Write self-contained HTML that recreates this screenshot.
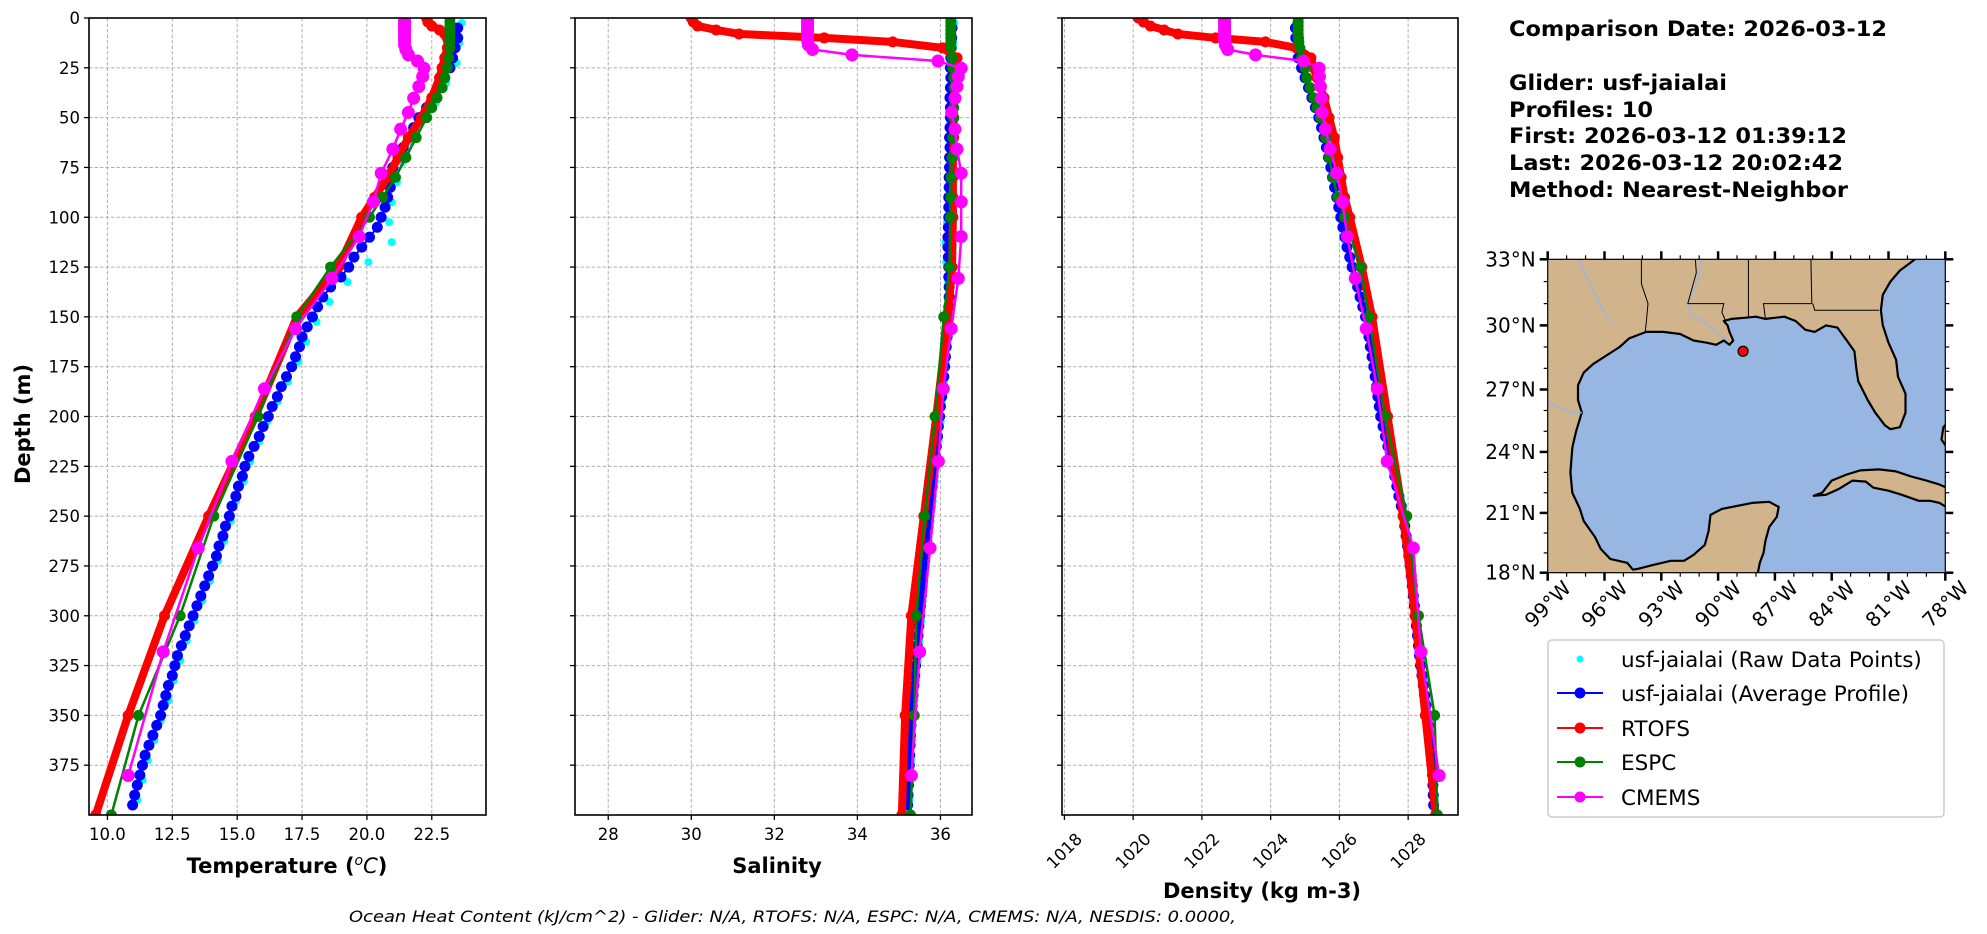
<!DOCTYPE html>
<html><head><meta charset="utf-8"><style>
html,body{margin:0;padding:0;background:#fff;}
svg{display:block;font-family:"DejaVu Sans","Liberation Sans",sans-serif;}
</style></head><body>
<svg id="fig" xmlns="http://www.w3.org/2000/svg" width="1987" height="934" viewBox="0 0 1987 934">
<rect x="0" y="0" width="1987" height="934" fill="#fff"/>
<g id="panels"></g>
<g id="mapg"></g>
<text x="0" y="0" transform="translate(30,424) rotate(-90)" text-anchor="middle" font-size="21" font-weight="bold">Depth (m)</text>
<text x="287" y="873" text-anchor="middle" font-size="21" font-weight="bold">Temperature (<tspan font-style="italic" font-weight="normal" font-size="14" dy="-8">o</tspan><tspan font-style="italic" font-weight="normal" dy="8">C</tspan>)</text>
<text x="777" y="873" text-anchor="middle" font-size="21" font-weight="bold">Salinity</text>
<text x="1262" y="898" text-anchor="middle" font-size="21" font-weight="bold">Density (kg m-3)</text>
<text x="349" y="922" font-size="16" font-style="italic" textLength="887" lengthAdjust="spacingAndGlyphs">Ocean Heat Content (kJ/cm^2) - Glider: N/A,  RTOFS: N/A,  ESPC: N/A,  CMEMS: N/A,  NESDIS: 0.0000,</text>
<g font-size="21" font-weight="bold">
<text x="1509" y="36" textLength="378" lengthAdjust="spacingAndGlyphs">Comparison Date: 2026-03-12</text>
<text x="1509" y="90" textLength="218" lengthAdjust="spacingAndGlyphs">Glider: usf-jaialai</text>
<text x="1509" y="117" textLength="144" lengthAdjust="spacingAndGlyphs">Profiles: 10</text>
<text x="1509" y="143" textLength="338" lengthAdjust="spacingAndGlyphs">First: 2026-03-12 01:39:12</text>
<text x="1509" y="170" textLength="334" lengthAdjust="spacingAndGlyphs">Last: 2026-03-12 20:02:42</text>
<text x="1509" y="197" textLength="339" lengthAdjust="spacingAndGlyphs">Method: Nearest-Neighbor</text>
</g>
<g>
<rect x="1548" y="640" width="396" height="177" rx="4" fill="#fff" stroke="#cccccc" stroke-width="1.5"/>
<g><circle cx="1580" cy="659" r="3.5" fill="#00ffff"/><text x="1621" y="667" font-size="21.5">usf-jaialai (Raw Data Points)</text></g>
<g><line x1="1557" y1="693" x2="1603" y2="693" stroke="#0000ff" stroke-width="2"/><circle cx="1580" cy="693" r="5.5" fill="#0000ff"/><text x="1621" y="701" font-size="21.5">usf-jaialai (Average Profile)</text></g>
<g><line x1="1557" y1="728" x2="1603" y2="728" stroke="#ff0000" stroke-width="2"/><circle cx="1580" cy="728" r="5.5" fill="#ff0000"/><text x="1621" y="736" font-size="21.5">RTOFS</text></g>
<g><line x1="1557" y1="762" x2="1603" y2="762" stroke="#008000" stroke-width="2"/><circle cx="1580" cy="762" r="5.5" fill="#008000"/><text x="1621" y="770" font-size="21.5">ESPC</text></g>
<g><line x1="1557" y1="797" x2="1603" y2="797" stroke="#ff00ff" stroke-width="2"/><circle cx="1580" cy="797" r="5.5" fill="#ff00ff"/><text x="1621" y="805" font-size="21.5">CMEMS</text></g>
</g>
</svg>
<script>
// ---------------- data ----------------
const gliderDepth = [5,10,15,20,25,30,35,40,45,50,55,60,65,70,75,80,85,90,95,100,105,110,115,120,125,130,135,140,145,150,155,160,165,170,175,180,185,190,195,200,205,210,215,220,225,230,235,240,245,250,255,260,265,270,275,280,285,290,295,300,305,310,315,320,325,330,335,340,345,350,355,360,365,370,375,380,385,390,395];
const gliderTemp = [23.5,23.5,23.4,23.3,23.2,23.0,22.8,22.6,22.3,22.0,21.8,21.6,21.4,21.2,21.0,21.0,20.9,20.8,20.7,20.55,20.4,20.1,19.8,19.5,19.3,19.0,18.6,18.3,18.1,17.9,17.7,17.5,17.4,17.25,17.1,16.9,16.7,16.55,16.35,16.2,16.0,15.85,15.65,15.45,15.3,15.2,15.05,14.95,14.8,14.7,14.55,14.45,14.3,14.2,14.05,13.9,13.75,13.6,13.45,13.3,13.15,13.0,12.85,12.7,12.6,12.5,12.35,12.25,12.15,12.05,11.9,11.75,11.6,11.45,11.35,11.25,11.15,11.05,10.97];
const gliderSal = [36.28,36.27,36.26,36.25,36.24,36.25,36.24,36.23,36.24,36.24,36.23,36.22,36.23,36.22,36.22,36.21,36.21,36.2,36.2,36.2,36.19,36.18,36.18,36.19,36.2,36.2,36.21,36.21,36.2,36.2,36.18,36.16,36.14,36.12,36.1,36.08,36.05,36.03,36.0,35.98,35.95,35.93,35.9,35.88,35.85,35.82,35.8,35.77,35.75,35.72,35.7,35.67,35.65,35.62,35.6,35.58,35.56,35.54,35.52,35.5,35.48,35.46,35.44,35.42,35.4,35.38,35.36,35.34,35.32,35.3,35.29,35.28,35.27,35.26,35.25,35.24,35.23,35.22,35.21];
const gliderDen = [1024.72,1024.73,1024.75,1024.8,1024.9,1025.0,1025.1,1025.2,1025.3,1025.4,1025.48,1025.55,1025.62,1025.68,1025.75,1025.8,1025.86,1025.92,1025.98,1026.04,1026.1,1026.16,1026.22,1026.3,1026.37,1026.45,1026.53,1026.6,1026.68,1026.76,1026.81,1026.86,1026.9,1026.95,1027.0,1027.04,1027.08,1027.12,1027.16,1027.2,1027.27,1027.34,1027.41,1027.48,1027.55,1027.61,1027.67,1027.73,1027.8,1027.86,1027.9,1027.94,1027.98,1028.02,1028.06,1028.09,1028.12,1028.15,1028.18,1028.21,1028.24,1028.27,1028.3,1028.33,1028.36,1028.4,1028.44,1028.48,1028.52,1028.56,1028.59,1028.62,1028.65,1028.68,1028.7,1028.71,1028.72,1028.73,1028.74];

const rawDepth = [2.5,12.5,22.5,32.5,42.5,52.5,62.5,72.5,82.5,92.5,102.5,112.5,122.5,132.5,142.5,152.5,162.5,172.5,182.5,192.5,202.5,212.5,222.5,232.5,242.5,252.5,262.5,272.5,282.5,292.5,302.5,312.5,322.5,332.5,342.5,352.5,362.5,372.5,382.5,392.5];
const rawTemp = [23.6,23.5,23.4,23.0,22.6,22.0,21.6,21.3,21.1,20.9,20.8,20.9,20.0,19.2,18.5,18.0,17.6,17.3,16.9,16.5,16.1,15.8,15.45,15.2,14.9,14.7,14.45,14.2,13.9,13.6,13.3,13.0,12.75,12.5,12.3,12.0,11.75,11.5,11.3,11.1];
const rawSal = [36.3,36.28,36.27,36.25,36.22,36.2,36.2,36.19,36.18,36.17,36.12,36.08,36.1,36.15,36.2,36.18,36.14,36.1,36.05,36.0,35.97,35.92,35.87,35.83,35.78,35.73,35.68,35.63,35.58,35.54,35.5,35.46,35.42,35.38,35.34,35.3,35.28,35.26,35.24,35.22];
const rawDen = [1024.7,1024.75,1024.85,1025.05,1025.25,1025.45,1025.6,1025.72,1025.84,1025.95,1026.05,1026.15,1026.3,1026.5,1026.62,1026.8,1026.9,1026.98,1027.06,1027.14,1027.24,1027.38,1027.52,1027.64,1027.76,1027.88,1027.96,1028.04,1028.1,1028.16,1028.22,1028.28,1028.34,1028.42,1028.5,1028.58,1028.64,1028.69,1028.71,1028.73];

const rtofsDepth = [0,2,4,6,8,10,12,15,20,25,30,40,50,60,70,80,90,100,125,150,200,250,300,350,400];
const rtofsTemp = [22.3,22.35,22.5,22.8,23.0,23.1,23.15,23.1,23.0,22.9,22.8,22.5,22.1,21.6,21.2,20.8,20.3,19.8,18.9,17.3,15.7,13.9,12.2,10.8,9.55];
const rtofsSal = [30.0,30.05,30.15,30.6,31.15,33.2,34.85,36.05,36.4,36.35,36.35,36.33,36.32,36.32,36.3,36.3,36.3,36.3,36.28,36.18,35.9,35.6,35.3,35.15,35.07];
const rtofsDen = [1020.15,1020.3,1020.5,1020.9,1021.3,1022.4,1023.85,1024.75,1025.17,1025.25,1025.35,1025.55,1025.7,1025.85,1025.95,1026.05,1026.15,1026.3,1026.65,1026.95,1027.4,1027.85,1028.2,1028.5,1028.8];

const espcDepth = [0,2,4,6,8,10,12,15,20,25,30,35,40,45,50,60,70,80,90,100,125,150,200,250,300,350,400];
const espcTemp = [23.2,23.2,23.2,23.2,23.2,23.2,23.2,23.2,23.15,23.1,23.0,22.9,22.7,22.5,22.3,21.9,21.5,21.1,20.6,20.1,18.6,17.3,15.8,14.1,12.8,11.2,10.15];
const espcSal = [36.25,36.25,36.25,36.25,36.25,36.25,36.25,36.26,36.28,36.3,36.32,36.33,36.33,36.32,36.32,36.3,36.28,36.26,36.25,36.24,36.22,36.08,35.87,35.62,35.42,35.37,35.28];
const espcDen = [1024.8,1024.8,1024.8,1024.8,1024.8,1024.81,1024.82,1024.85,1024.9,1025.0,1025.05,1025.15,1025.25,1025.35,1025.45,1025.6,1025.7,1025.82,1025.95,1026.15,1026.62,1026.86,1027.33,1027.96,1028.3,1028.77,1028.85];

const cmemsDepth = [0.5,1.5,2.6,3.8,5.1,6.4,7.9,9.6,11.4,13.5,15.8,18.5,21.6,25.2,29.4,34.4,40.3,47.4,55.8,65.8,77.9,92.3,109.7,130.7,155.9,186.1,222.5,266.0,318.1,380.2];
const cmemsTemp = [21.45,21.45,21.45,21.45,21.45,21.45,21.45,21.45,21.45,21.45,21.5,21.6,21.95,22.2,22.15,22.0,21.8,21.6,21.3,21.0,20.55,20.25,19.7,18.65,17.25,16.05,14.8,13.5,12.15,10.8];
const cmemsSal = [32.8,32.8,32.8,32.8,32.8,32.8,32.8,32.8,32.8,32.82,32.92,33.87,35.94,36.5,36.43,36.4,36.35,36.27,36.35,36.4,36.5,36.5,36.5,36.43,36.26,36.07,35.95,35.75,35.5,35.3];
const cmemsDen = [1022.66,1022.66,1022.66,1022.66,1022.66,1022.66,1022.66,1022.66,1022.66,1022.68,1022.75,1023.56,1024.96,1025.41,1025.42,1025.45,1025.48,1025.5,1025.59,1025.73,1025.92,1026.09,1026.23,1026.46,1026.78,1027.1,1027.39,1028.15,1028.37,1028.9];

const depthTicks = [0,25,50,75,100,125,150,175,200,225,250,275,300,325,350,375];
const tempTicks = [10,12.5,15,17.5,20,22.5];
const tempTickLabels = ["10.0","12.5","15.0","17.5","20.0","22.5"];
const salTicks = [28,30,32,34,36];
const denTicks = [1018,1020,1022,1024,1026,1028];

const gliderLonLat = [-88.68, 28.8];
const lonTicks = [-99,-96,-93,-90,-87,-84,-81,-78];
const latTicks = [18,21,24,27,30,33];

// ---------------- helpers ----------------
const NS = "http://www.w3.org/2000/svg";
function mk(tag, attrs, parent){ const e=document.createElementNS(NS,tag); for(const k in attrs) e.setAttribute(k,attrs[k]); parent.appendChild(e); return e; }

const Y0=18, Y1=815, DMAX=400;
function yScale(d){ return Y0 + (d/DMAX)*(Y1-Y0); }
const panels = [
 {x0:89, x1:486, min:9.29, max:24.59, name:"temperature"},
 {x0:575, x1:972, min:27.2, max:36.76, name:"salinity"},
 {x0:1062, x1:1458, min:1017.93, max:1029.45, name:"density"}
];
function xScale(p, v){ return p.x0 + (v-p.min)/(p.max-p.min)*(p.x1-p.x0); }

const root = document.getElementById('panels');
const defs = mk('defs',{},document.getElementById('fig'));

panels.forEach((p,i)=>{
  const g = mk('g',{},root);
  
  
  const cp = mk('clipPath',{id:'clip'+i},defs);
  mk('rect',{x:p.x0,y:Y0,width:p.x1-p.x0,height:Y1-Y0},cp);
  const grid = mk('g',{stroke:'#b0b0b0','stroke-width':1,'stroke-dasharray':'3.5,2'},g);
  
  
  const xt = i===0?tempTicks:(i===1?salTicks:denTicks);
  xt.forEach(v=>{ const x=xScale(p,v); mk('line',{x1:x,x2:x,y1:Y0,y2:Y1},grid); });
  depthTicks.forEach(d=>{ const y=yScale(d); mk('line',{x1:p.x0,x2:p.x1,y1:y,y2:y},grid); });
  const tk = mk('g',{stroke:'#000','stroke-width':1.3},g);
  
  
  xt.forEach(v=>{ const x=xScale(p,v); mk('line',{x1:x,x2:x,y1:Y1,y2:Y1+5},tk); });
  depthTicks.forEach(d=>{ const y=yScale(d); mk('line',{x1:p.x0-5,x2:p.x0,y1:y,y2:y},tk); });
  xt.forEach((v,k)=>{
    const x=xScale(p,v);
    let t;
    if(i===2){
      t = mk('text',{x:0,y:0,'font-size':16.5,'text-anchor':'middle','dominant-baseline':'central',transform:`translate(${x},${851}) rotate(-45)`},g);
      t.textContent = String(v);
    } else {
      t = mk('text',{x:x,y:Y1+25,'font-size':16.5,'text-anchor':'middle'},g);
      t.textContent = i===0?tempTickLabels[k]:String(v);
    }
    
    
  });
  if(i===0){
    depthTicks.forEach(d=>{
      const t = mk('text',{x:p.x0-9,y:yScale(d)+6,'font-size':16.5,'text-anchor':'end'},g);
      t.textContent = String(d);
      
      
    });
  }
  const sg = mk('g',{'clip-path':`url(#clip${i})`},g);
  
  
  const raw = i===0?rawTemp:(i===1?rawSal:rawDen);
  const gl = i===0?gliderTemp:(i===1?gliderSal:gliderDen);
  const rt = i===0?rtofsTemp:(i===1?rtofsSal:rtofsDen);
  const es = i===0?espcTemp:(i===1?espcSal:espcDen);
  const cm = i===0?cmemsTemp:(i===1?cmemsSal:cmemsDen);
  const rg = mk('g',{fill:'#00ffff'},sg);
  
  
  raw.forEach((v,k)=>{ mk('circle',{cx:xScale(p,v)+1.5,cy:yScale(rawDepth[k]),r:4},rg); });
  gl.forEach((v,k)=>{ mk('circle',{cx:xScale(p,v)+2,cy:yScale(gliderDepth[k]),r:3.5},rg); });
  function series(depths, vals, color, lw, r, nm){
    const gg = mk('g',{},sg);
    
    
    const pts = vals.map((v,k)=>xScale(p,v).toFixed(2)+','+yScale(depths[k]).toFixed(2)).join(' ');
    mk('polyline',{points:pts,fill:'none',stroke:color,'stroke-width':lw,'stroke-linejoin':'round','stroke-linecap':'round'},gg);
    vals.forEach((v,k)=>{ mk('circle',{cx:xScale(p,v),cy:yScale(depths[k]),r:r,fill:color},gg); });
  }
  series(gliderDepth, gl, '#0000ff', 2, 5.5, 'glider-average-profile');
  series(rtofsDepth, rt, '#ff0000', 8, 5.5, 'rtofs-profile');
  series(espcDepth, es, '#008000', 2.5, 5.5, 'espc-profile');
  series(cmemsDepth, cm, '#ff00ff', 2.5, 6.5, 'cmems-profile');
  const fr = mk('rect',{x:p.x0,y:Y0,width:p.x1-p.x0,height:Y1-Y0,fill:'none',stroke:'#000','stroke-width':1.6},g);
  
  
});

// ---------------- map ----------------
const M = {x0:1547.7, x1:1945.3, y0:259.3, y1:572.7, lon0:-99, lon1:-78, lat0:18, lat1:33};
function merc(lat){ return Math.log(Math.tan(Math.PI/4 + lat*Math.PI/360)); }
function mx(lon){ return M.x0 + (lon-M.lon0)/(M.lon1-M.lon0)*(M.x1-M.x0); }
function my(lat){ return M.y0 + (merc(M.lat1)-merc(lat))/(merc(M.lat1)-merc(M.lat0))*(M.y1-M.y0); }
const landMain = [[-99.5,33.5],[-79.6,33.5],[-79.6,33],[-80.4,32.5],[-80.9,32.0],[-81.3,31.4],[-81.4,30.7],[-81.3,30.0],[-81.0,29.2],[-80.6,28.4],[-80.5,27.6],[-80.1,26.8],[-80.1,25.9],[-80.4,25.2],[-80.9,25.1],[-81.2,25.3],[-81.7,25.9],[-82.1,26.5],[-82.6,27.4],[-82.7,28.0],[-82.8,28.8],[-83.2,29.3],[-83.7,29.9],[-84.3,30.0],[-84.9,29.7],[-85.4,29.8],[-85.9,30.2],[-86.5,30.4],[-87.5,30.3],[-88.0,30.4],[-88.6,30.35],[-89.3,30.3],[-89.7,30.2],[-89.5,30.0],[-89.4,29.7],[-89.2,29.3],[-89.4,29.1],[-89.7,29.3],[-90.1,29.1],[-90.6,29.2],[-91.3,29.3],[-92.0,29.6],[-92.9,29.7],[-93.8,29.7],[-94.7,29.4],[-95.2,29.0],[-95.9,28.6],[-96.6,28.2],[-97.1,27.8],[-97.4,27.2],[-97.4,26.5],[-97.2,25.9],[-97.5,25.0],[-97.7,24.2],[-97.8,23.0],[-97.7,22.0],[-97.3,21.2],[-97.1,20.6],[-96.5,19.8],[-96.2,19.2],[-95.7,18.7],[-94.8,18.5],[-94.5,18.15],[-94.2,18.2],[-93.4,18.4],[-92.5,18.6],[-91.8,18.6],[-91.3,18.9],[-90.7,19.4],[-90.5,20.1],[-90.4,20.9],[-89.8,21.2],[-89.0,21.35],[-88.2,21.5],[-87.3,21.55],[-86.8,21.3],[-86.9,20.8],[-87.3,20.3],[-87.5,19.6],[-87.6,19.0],[-87.8,18.5],[-87.9,18.0],[-87.9,17.5],[-99.5,17.5]];
const landCuba = [[-84.95,21.85],[-84.5,22.0],[-84.0,22.6],[-83.2,22.9],[-82.5,23.1],[-81.5,23.15],[-80.6,23.05],[-79.8,22.8],[-79.0,22.6],[-78.3,22.4],[-77.8,22.2],[-77.8,21.2],[-78.3,21.5],[-78.8,21.6],[-79.4,21.6],[-80.3,21.9],[-81.0,22.1],[-81.8,22.25],[-82.2,22.55],[-82.9,22.6],[-83.6,22.2],[-84.3,21.9]];
const landBahamas = [[-77.7,25.6],[-78.1,25.2],[-78.2,24.6],[-77.9,24.2],[-77.7,24.4]];
const borders = [
 [[-94.05,33],[-94.05,31.9],[-93.7,31],[-93.8,30.1],[-93.85,29.7]],
 [[-91.2,33],[-91.15,32.4],[-91.6,31.0],[-89.7,31.0],[-89.8,30.6],[-89.6,30.2]],
 [[-88.4,33],[-88.4,30.4]],
 [[-85.1,33],[-85.05,31.0],[-87.6,31.0],[-87.5,30.3]],
 [[-85.0,31.0],[-84.9,30.7],[-81.5,30.7]]
];
const rivers = [
 [[-90.9,33],[-91.1,32],[-91.6,31],[-91.4,30.5],[-90.5,30.0],[-89.4,29.2]],
 [[-99,26.4],[-98.3,26.1],[-97.7,25.9],[-97.2,25.9]],
 [[-97.4,33],[-96.8,32],[-96.3,31],[-95.6,30.1]]
];
const mg = document.getElementById('mapg');
const mcp = mk('clipPath',{id:'mapclip'},defs);
mk('rect',{x:M.x0,y:M.y0,width:M.x1-M.x0,height:M.y1-M.y0},mcp);
const mc = mk('g',{'clip-path':'url(#mapclip)'},mg);
const ocean = mk('rect',{x:M.x0,y:M.y0,width:M.x1-M.x0,height:M.y1-M.y0,fill:'#97b6e1'},mc);


function ptsOf(arr){ return arr.map(a=>mx(a[0]).toFixed(1)+','+my(a[1]).toFixed(1)).join(' '); }
[[landMain,'land-north-america'],[landCuba,'land-cuba'],[landBahamas,'land-bahamas']].forEach(([arr,nm])=>{
  const pg = mk('polygon',{points:ptsOf(arr),fill:'#d2b48c',stroke:'#000','stroke-width':2.2,'stroke-linejoin':'round'},mc);
  
  
});
rivers.forEach(r=>{
  const l = mk('polyline',{points:ptsOf(r),fill:'none',stroke:'#97b6e1','stroke-width':1.5},mc);
  
  
});
borders.forEach(b=>{
  const l = mk('polyline',{points:ptsOf(b),fill:'none',stroke:'#000','stroke-width':1},mc);
  
  
});
const dot = mk('circle',{cx:mx(gliderLonLat[0]),cy:my(gliderLonLat[1]),r:5,fill:'#ff0000',stroke:'#000','stroke-width':1.2},mc);


const mf = mk('rect',{x:M.x0,y:M.y0,width:M.x1-M.x0,height:M.y1-M.y0,fill:'none',stroke:'#000','stroke-width':1.2},mg);


const mt = mk('g',{stroke:'#000'},mg);


for(let lon=-99; lon<=-78; lon++){
  const x=mx(lon); const major = lonTicks.includes(lon); const L = major?8:4; const w = major?2.5:1.2;
  mk('line',{x1:x,x2:x,y1:M.y1,y2:M.y1+L,'stroke-width':w},mt);
  mk('line',{x1:x,x2:x,y1:M.y0,y2:M.y0-L,'stroke-width':w},mt);
}
for(let lat=18; lat<=33; lat++){
  const y=my(lat); const major = latTicks.includes(lat); const L = major?8:4; const w = major?2.5:1.2;
  mk('line',{x1:M.x0-L,x2:M.x0,y1:y,y2:y,'stroke-width':w},mt);
  mk('line',{x1:M.x1,x2:M.x1+L,y1:y,y2:y,'stroke-width':w},mt);
}
lonTicks.forEach(lon=>{
  const t = mk('text',{x:0,y:0,'font-size':20,'text-anchor':'middle','dominant-baseline':'central',transform:`translate(${mx(lon)},${604}) rotate(-45)`},mg);
  t.textContent = Math.abs(lon)+'°W';
  
  
});
latTicks.forEach(lat=>{
  const t = mk('text',{x:M.x0-12,y:my(lat)+7,'font-size':20,'text-anchor':'end'},mg);
  t.textContent = lat+'°N';
  
  
});
</script>
</body></html>
